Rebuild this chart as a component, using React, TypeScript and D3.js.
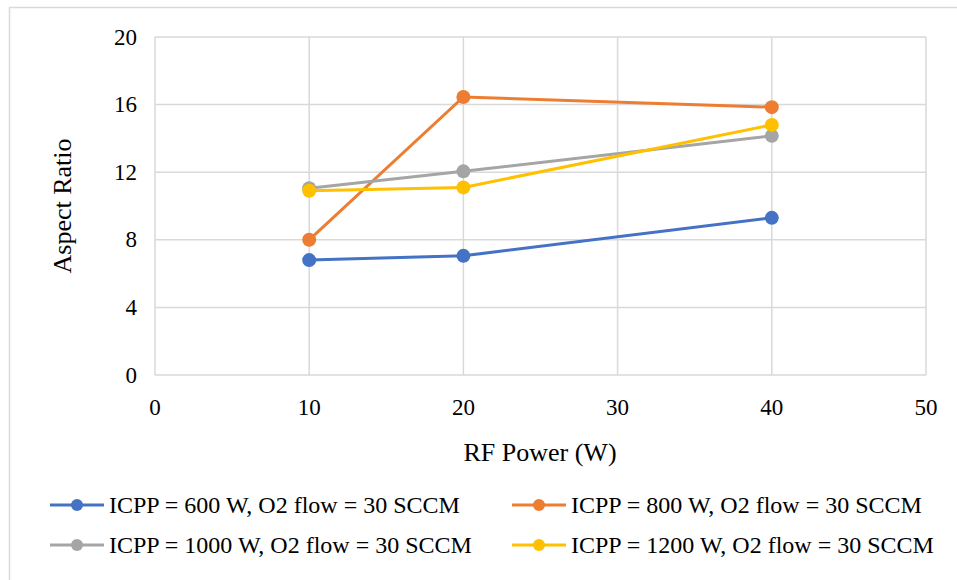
import { useEffect, useRef } from 'react';
import * as d3 from 'd3';

const rfPower = [10, 20, 40];
const seriesNames = [
  'ICPP = 600 W, O2 flow = 30 SCCM',
  'ICPP = 800 W, O2 flow = 30 SCCM',
  'ICPP = 1000 W, O2 flow = 30 SCCM',
  'ICPP = 1200 W, O2 flow = 30 SCCM',
];
const icpp600 = [6.8, 7.05, 9.3];
const icpp800 = [8.0, 16.45, 15.85];
const icpp1000 = [11.05, 12.05, 14.15];
const icpp1200 = [10.9, 11.1, 14.8];
const xTicks = [0, 10, 20, 30, 40, 50];
const yTicks = [0, 4, 8, 12, 16, 20];
const colors = ['#4472C4', '#ED7D31', '#A5A5A5', '#FFC000'];

const App = () => {
  const svgRef = useRef<SVGSVGElement>(null);

  useEffect(() => {
    const svg = d3.select(svgRef.current);
    svg.selectAll('*').remove();

    const font = '"Liberation Serif", "Times New Roman", serif';
    const left = 155, right = 926, top = 37, bottom = 375;

    const x = d3.scaleLinear().domain([0, 50]).range([left, right]);
    const y = d3.scaleLinear().domain([0, 20]).range([bottom, top]);

    // outer frame
    svg.append('rect')
      .attr('x', 9.5).attr('y', 7.5)
      .attr('width', 1000).attr('height', 1000)
      .attr('fill', 'none').attr('stroke', '#d9d9d9').attr('stroke-width', 1.5);

    // grid
    const grid = svg.append('g');
    xTicks.forEach(t => {
      grid.append('line')
        .attr('x1', x(t)).attr('x2', x(t)).attr('y1', top).attr('y2', bottom)
        .attr('stroke', '#d9d9d9').attr('stroke-width', 1.5);
    });
    yTicks.forEach(t => {
      grid.append('line')
        .attr('x1', left).attr('x2', right).attr('y1', y(t)).attr('y2', y(t))
        .attr('stroke', '#d9d9d9').attr('stroke-width', 1.5);
    });

    // tick labels
    svg.append('g').selectAll('text').data(yTicks).join('text')
      .attr('x', 137).attr('y', d => y(d)).attr('dy', '0.33em')
      .attr('text-anchor', 'end')
      .style('font-family', font).style('font-size', '23px')
      .text(d => d);

    svg.append('g').selectAll('text').data(xTicks).join('text')
      .attr('x', d => x(d)).attr('y', 407).attr('dy', '0.33em')
      .attr('text-anchor', 'middle')
      .style('font-family', font).style('font-size', '23px')
      .text(d => d);

    // axis titles
    svg.append('text')
      .attr('transform', `translate(71,${(top + bottom) / 2}) rotate(-90)`)
      .attr('text-anchor', 'middle')
      .style('font-family', font).style('font-size', '26px')
      .text('Aspect Ratio');

    svg.append('text')
      .attr('x', 540).attr('y', 452).attr('dy', '0.33em')
      .attr('text-anchor', 'middle')
      .style('font-family', font).style('font-size', '26px')
      .text('RF Power (W)');

    // series
    const allSeries = [icpp600, icpp800, icpp1000, icpp1200];
    const line = d3.line<number>()
      .x((_, i) => x(rfPower[i]))
      .y(d => y(d));

    allSeries.forEach((vals, si) => {
      const g = svg.append('g');
      g.append('path')
        .attr('d', line(vals))
        .attr('fill', 'none')
        .attr('stroke', colors[si])
        .attr('stroke-width', 3);
      g.selectAll('circle').data(vals).join('circle')
        .attr('cx', (_, i) => x(rfPower[i]))
        .attr('cy', d => y(d))
        .attr('r', 7)
        .attr('fill', colors[si]);
    });

    // legend
    const legendPos = [
      [50, 505], [512, 505], [50, 545], [512, 545],
    ];
    seriesNames.forEach((name, i) => {
      const [lx, ly] = legendPos[i];
      const g = svg.append('g').attr('transform', `translate(${lx},${ly})`);
      g.append('line')
        .attr('x1', 0).attr('x2', 54).attr('y1', 0).attr('y2', 0)
        .attr('stroke', colors[i]).attr('stroke-width', 3);
      g.append('circle').attr('cx', 27).attr('cy', 0).attr('r', 6).attr('fill', colors[i]);
      g.append('text')
        .attr('x', 59).attr('y', 0).attr('dy', '0.33em')
        .style('font-family', font).style('font-size', '24px')
        .text(name);
    });
  }, []);

  return (
    <svg
      ref={svgRef}
      width={957}
      height={580}
      style={{ position: 'absolute', left: 0, top: 0, background: '#fff' }}
    />
  );
};

export default App;
